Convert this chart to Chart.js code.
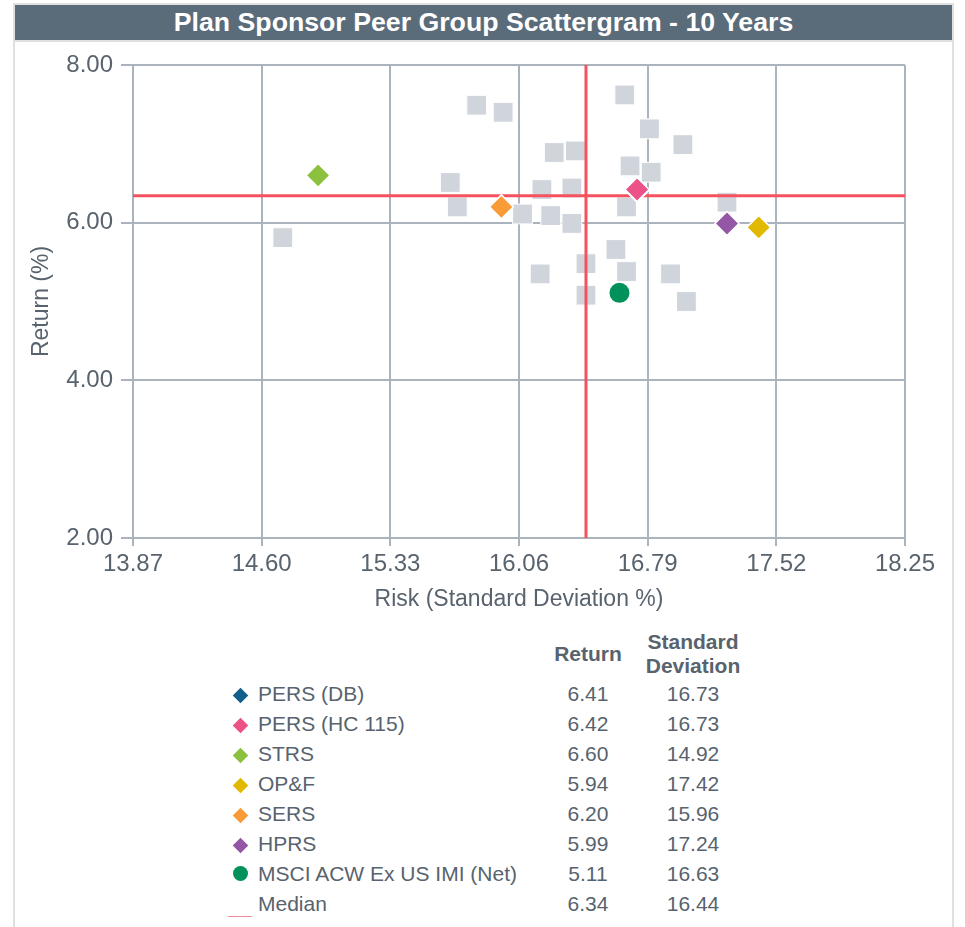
<!DOCTYPE html>
<html>
<head>
<meta charset="utf-8">
<script src="https://cdn.jsdelivr.net/npm/chart.js@4.4.1/dist/chart.umd.min.js"></script>
<style>
  body { margin: 0; background: #fff; font-family: "Liberation Sans", Arial, sans-serif; }
  #frame {
    position: absolute; left: 13px; top: 3px; width: 937px; height: 940px;
    border: 2px solid #e0e0e0; border-bottom: none;
  }
  #title {
    height: 35px; background: #5a6b7a; color: #fff; border-bottom: 2px solid #e0e0e0;
    font-weight: bold; font-size: 26.7px; line-height: 35px; text-align: center;
  }
  #chartBox { position: absolute; left: 0; top: 42px; width: 965px; height: 580px; }
  #legend { position: absolute; left: 226px; top: 629px; color: #58636e; font-size: 21px; }
  #legend table { border-collapse: collapse; }
  #legend td, #legend th { padding: 0; }
  #legend th { font-weight: bold; line-height: 24px; height: 50px; text-align: center; }
  #legend td { height: 30px; }
  .legend__marker { width: 28px; text-align: center; }
  .legend__label { width: 288px; padding-left: 4px !important; }
  .legend__ret { width: 84px; text-align: center; }
  .legend__std { width: 126px; text-align: center; }
  .dia { display: inline-block; width: 11px; height: 11px; transform: rotate(45deg); }
  .dot { display: inline-block; width: 15px; height: 15px; border-radius: 50%; }
  .med { display: inline-block; width: 24px; height: 1px; background: #f08a95; vertical-align: -6px; }
</style>
</head>
<body>
<div id="frame"><div id="title">Plan Sponsor Peer Group Scattergram - 10 Years</div></div>
<div id="chartBox"><canvas id="myChart" width="965" height="580"></canvas></div>
<div id="legend"></div>
<script>
const TEXT = "#58636e"
const GRID = "#abb3bd"
const FONT = "'Liberation Sans', Arial, sans-serif"

// peer universe (risk, return)
const peerRisk = [15.82, 15.97, 16.66, 16.80, 16.99, 16.26, 16.38, 16.69, 16.81, 15.67, 16.19, 16.36, 15.71,
  16.08, 16.24, 16.36, 16.67, 17.24, 16.61, 16.44, 16.67, 16.18, 16.92, 16.44, 17.01, 14.72]
const peerReturn = [7.49, 7.40, 7.62, 7.19, 6.99, 6.89, 6.91, 6.72, 6.64, 6.51, 6.42, 6.44, 6.20,
  6.11, 6.09, 5.99, 6.20, 6.26, 5.66, 5.48, 5.38, 5.35, 5.35, 5.08, 5.00, 5.81]

const names = ["PERS (DB)", "PERS (HC 115)", "STRS", "OP&F", "SERS", "HPRS", "MSCI ACW Ex US IMI (Net)"]
const returns = [6.41, 6.42, 6.60, 5.94, 6.20, 5.99, 5.11]
const stdDevs = [16.73, 16.73, 14.92, 17.42, 15.96, 17.24, 16.63]
const colors = ["#135f8b", "#ec5288", "#8cc13f", "#e0b900", "#f99b36", "#9457a6", "#00925a"]
const shapes = ["rectRot", "rectRot", "rectRot", "rectRot", "rectRot", "rectRot", "circle"]

const medianReturn = 6.34
const medianStdDev = 16.44

const xTicks = [13.87, 14.60, 15.33, 16.06, 16.79, 17.52, 18.25]
const yTicks = [2, 4, 6, 8]

// PERS (DB) sits under PERS (HC 115) in the original
const highlighted = names.map((name, i) => ({
  label: name,
  data: [{ x: stdDevs[i], y: returns[i] }],
  pointStyle: shapes[i],
  pointRadius: shapes[i] === "circle" ? 10 : 12,
  backgroundColor: colors[i],
  borderColor: "#ffffff",
  borderWidth: shapes[i] === "circle" ? 0 : 1.5,
  order: i === 0 ? 1.5 : 1,
}))

const datasets = [
  ...highlighted,
  {
    label: "Median return",
    data: [{ x: xTicks[0], y: medianReturn }, { x: xTicks[xTicks.length - 1], y: medianReturn }],
    showLine: true, borderColor: "#f6515f", borderWidth: 3, pointRadius: 0, order: 2,
  },
  {
    label: "Median risk",
    data: [{ x: medianStdDev, y: yTicks[0] }, { x: medianStdDev, y: yTicks[yTicks.length - 1] }],
    showLine: true, borderColor: "#f6515f", borderWidth: 3, pointRadius: 0, order: 2,
  },
  {
    label: "Peers",
    data: peerRisk.map((x, i) => ({ x, y: peerReturn[i] })),
    pointStyle: "rect", pointRadius: 14, backgroundColor: "#d0d5dc",
    borderColor: "#ffffff", borderWidth: 1, order: 3,
  },
]

const config = {
  type: "scatter",
  data: { datasets },
  options: {
    responsive: false,
    animation: false,
    layout: { padding: { top: 23, right: 60, left: 0, bottom: 0 } },
    plugins: { legend: { display: false }, tooltip: { enabled: false } },
    scales: {
      x: {
        type: "linear",
        min: xTicks[0],
        max: xTicks[xTicks.length - 1],
        afterBuildTicks: (s) => { s.ticks = xTicks.map((v) => ({ value: v })) },
        afterFit: (s) => { s.height = 84 },
        ticks: { callback: (v) => v.toFixed(2), color: TEXT, font: { family: FONT, size: 24 }, padding: 4, maxRotation: 0 },
        grid: { color: GRID, lineWidth: 2, tickLength: 8 },
        border: { color: GRID, width: 2 },
        title: { display: true, text: "Risk (Standard Deviation %)", color: TEXT, font: { family: FONT, size: 23 }, padding: { top: 0, bottom: 9 } },
      },
      y: {
        min: yTicks[0],
        max: yTicks[yTicks.length - 1],
        afterBuildTicks: (s) => { s.ticks = yTicks.map((v) => ({ value: v })) },
        afterFit: (s) => { s.width = 133 },
        ticks: { callback: (v) => v.toFixed(2), color: TEXT, font: { family: FONT, size: 24 }, padding: 8 },
        grid: { color: GRID, lineWidth: 2, tickLength: 12 },
        border: { color: GRID, width: 2 },
        title: { display: true, text: "Return (%)", color: TEXT, font: { family: FONT, size: 23 }, padding: { top: 28, bottom: 0 } },
      },
    },
  },
}

const myChart = new Chart(document.getElementById("myChart").getContext("2d"), config)

;(function buildLegend() {
  const rows = names.map((name, i) => {
    const marker = shapes[i] === "circle"
      ? `<span class="dot" style="background:${colors[i]}"></span>`
      : `<span class="dia" style="background:${colors[i]}"></span>`
    return `<tr><td class="legend__marker">${marker}</td><td class="legend__label">${name.replace("&", "&amp;")}</td>` +
      `<td class="legend__ret">${returns[i].toFixed(2)}</td><td class="legend__std">${stdDevs[i].toFixed(2)}</td></tr>`
  })
  rows.push(`<tr><td class="legend__marker"><span class="med"></span></td><td class="legend__label">Median</td>` +
    `<td class="legend__ret">${medianReturn.toFixed(2)}</td><td class="legend__std">${medianStdDev.toFixed(2)}</td></tr>`)
  document.getElementById("legend").innerHTML =
    `<table><tr><th></th><th></th><th>Return</th><th>Standard<br>Deviation</th></tr>${rows.join("")}</table>`
})()
</script>
</body>
</html>
